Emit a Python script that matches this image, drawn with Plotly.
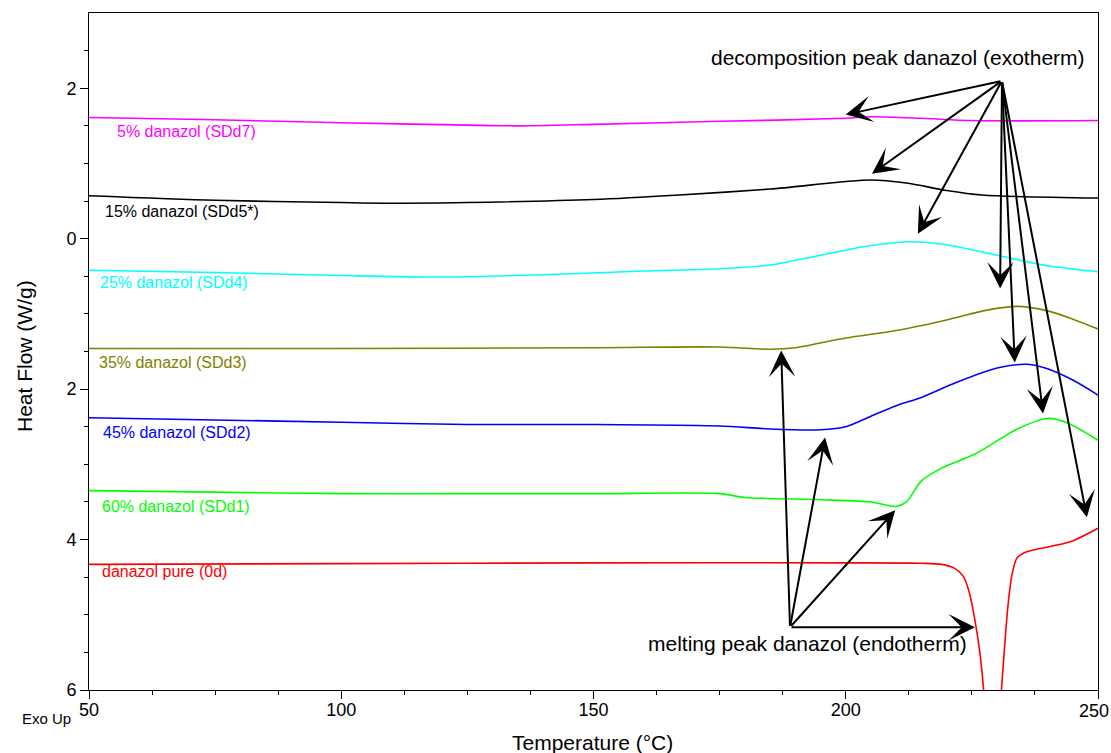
import plotly.graph_objects as go

# ---- data (temperature in °C, heat flow in W/g; exo up) ----
t_sdd7 = [50, 75, 100, 125, 135, 150, 175, 200, 205, 215, 225, 250]
h_sdd7 = [1.61, 1.58, 1.54, 1.51, 1.50, 1.52, 1.56, 1.60, 1.62, 1.60, 1.57, 1.57]

t_sdd5 = [50, 75, 100, 112, 125, 150, 167, 185, 205, 212, 220, 227, 250]
h_sdd5 = [0.57, 0.51, 0.48, 0.47, 0.48, 0.52, 0.58, 0.66, 0.78, 0.74, 0.64, 0.58, 0.54]

t_sdd4 = [50, 75, 100, 120, 140, 160, 175, 185, 195, 205, 213, 220, 230, 240, 250]
h_sdd4 = [-0.42, -0.45, -0.49, -0.51, -0.48, -0.43, -0.40, -0.35, -0.22, -0.09, -0.04, -0.08, -0.22, -0.36, -0.44]

t_sdd3 = [50, 100, 150, 175, 185, 190, 200, 210, 220, 228, 234, 240, 245, 250]
h_sdd3 = [-1.46, -1.46, -1.45, -1.44, -1.47, -1.45, -1.32, -1.22, -1.08, -0.95, -0.90, -0.96, -1.07, -1.20]

t_sdd2 = [50, 75, 100, 125, 150, 175, 185, 195, 200, 205, 210, 215, 222, 230, 236, 240, 245, 250]
h_sdd2 = [-2.38, -2.41, -2.44, -2.47, -2.47, -2.49, -2.53, -2.54, -2.50, -2.36, -2.22, -2.11, -1.91, -1.72, -1.67, -1.73, -1.88, -2.08]

t_sdd1 = [50, 75, 100, 125, 150, 175, 180, 195, 205, 210, 212, 215, 219, 226, 234, 240, 244, 250]
h_sdd1 = [-3.35, -3.37, -3.39, -3.39, -3.39, -3.39, -3.44, -3.47, -3.50, -3.56, -3.50, -3.22, -3.05, -2.85, -2.53, -2.39, -2.45, -2.68]

t_0d = [50, 100, 150, 200, 215, 219, 221.5, 223.2, 224.4, 225.6, 226.6, 227.4, 229, 230.8, 231.4, 232.2, 233, 234, 236, 238.5, 244.5, 250]
h_0d = [-4.33, -4.32, -4.31, -4.31, -4.315, -4.33, -4.38, -4.48, -4.68, -5.07, -5.51, -6.05, -7.5, -6.05, -5.5, -4.85, -4.45, -4.24, -4.16, -4.12, -4.03, -3.85]

series = [
    ("5% danazol (SDd7)", t_sdd7, h_sdd7, "#FF00FF", 55.2, 1.42),
    ("15% danazol (SDd5*)", t_sdd5, h_sdd5, "#000000", 52.8, 0.36),
    ("25% danazol (SDd4)", t_sdd4, h_sdd4, "#00FFFF", 51.8, -0.58),
    ("35% danazol (SDd3)", t_sdd3, h_sdd3, "#808000", 51.6, -1.65),
    ("45% danazol (SDd2)", t_sdd2, h_sdd2, "#0000FF", 52.4, -2.58),
    ("60% danazol (SDd1)", t_sdd1, h_sdd1, "#00FF00", 52.2, -3.56),
    ("danazol pure (0d)", t_0d, h_0d, "#FF0000", 52.2, -4.42),
]

y_tickvals = [2, 0, -2, -4, -6]
y_ticktext = ["2", "0", "2", "4", "6"]
x_tickvals = [50, 100, 150, 200, 250]
x_ticktext = ["50", "100", "150", "200", ""]  # "250" drawn as an annotation at the right edge
x_last_label = "250"

# arrows: (tip x, tip y), common tail
decomp_tail = (230.97, 2.098)
decomp_tips = [(200.0, 1.65), (205.2, 0.863), (214.3, 0.066), (230.6, -0.664),
               (233.5, -1.647), (239.1, -2.324), (247.8, -3.705)]
melt_tail = (188.95, -5.166)
melt_tips = [(187.2, -1.487), (195.9, -2.643), (209.8, -3.612), (225.6, -5.166)]

FONT = "Arial, Liberation Sans, sans-serif"

PL, PT, PR, PB = 89, 13, 1098, 690  # plot area in page pixels
W, H = 1111, 753
PW, PH = PR - PL, PB - PT


def px(xp):
    return (xp - PL) / PW


def py(yp):
    return (PB - yp) / PH


fig = go.Figure()
for name, t, h, col, lx, ly in series:
    fig.add_trace(go.Scatter(x=t, y=h, mode="lines", name=name,
                             line=dict(color=col, width=1.6, shape="spline", smoothing=0.8),
                             showlegend=False, hoverinfo="skip"))

annotations = []
for name, t, h, col, lx, ly in series:
    annotations.append(dict(x=lx, y=ly, xref="x", yref="y", text=name, showarrow=False,
                            xanchor="left", yanchor="middle",
                            font=dict(family=FONT, size=16, color=col)))

for tips, tail in ((decomp_tips, decomp_tail), (melt_tips, melt_tail)):
    for (x, y) in tips:
        annotations.append(dict(x=x, y=y, xref="x", yref="y", ax=tail[0], ay=tail[1],
                                axref="x", ayref="y", text="", showarrow=True,
                                arrowhead=3, arrowsize=2.2, arrowwidth=2, arrowcolor="black",
                                standoff=0, startstandoff=0))

annotations += [
    dict(x=210.3, y=2.404, xref="x", yref="y", text="decomposition peak danazol (exotherm)",
         showarrow=False, font=dict(family=FONT, size=21, color="black")),
    dict(x=192.4, y=-5.378, xref="x", yref="y", text="melting peak danazol (endotherm)",
         showarrow=False, font=dict(family=FONT, size=21, color="black")),
    dict(x=px(1111), y=py(711), xref="paper", yref="paper", text=x_last_label,
         showarrow=False, xanchor="right", yanchor="middle",
         font=dict(family=FONT, size=18, color="black")),
    dict(x=px(73), y=py(718), xref="paper", yref="paper", text="Exo Up",
         showarrow=False, xanchor="right", yanchor="middle",
         font=dict(family=FONT, size=15, color="black")),
    dict(x=px(592), y=py(742), xref="paper", yref="paper",
         text="Temperature (°C)", showarrow=False, yanchor="middle",
         font=dict(family=FONT, size=21, color="black")),
    dict(x=px(24), y=py(356), xref="paper", yref="paper",
         text="Heat Flow (W/g)", showarrow=False, textangle=-90, xanchor="center",
         yanchor="middle", font=dict(family=FONT, size=21, color="black")),
]

fig.update_layout(
    width=W, height=H,
    margin=dict(l=PL, r=W - PR, t=PT, b=H - PB, pad=0),
    paper_bgcolor="white", plot_bgcolor="white",
    annotations=annotations,
    font=dict(family=FONT, color="black"),
    xaxis=dict(range=[50, 250], tickmode="array", tickvals=x_tickvals, ticktext=x_ticktext,
               ticks="outside", ticklen=8, tickwidth=1, tickcolor="black",
               showline=True, linecolor="black", linewidth=1, mirror=True,
               showgrid=False, zeroline=False, ticklabelstandoff=-5,
               tickfont=dict(family=FONT, size=18, color="black"),
               minor=dict(tickvals=[62.5, 75, 87.5, 112.5, 125, 137.5, 162.5, 175, 187.5,
                                    212.5, 225, 237.5],
                          ticks="outside", ticklen=4, tickcolor="black", showgrid=False)),
    yaxis=dict(range=[-6, 3], tickmode="array", tickvals=y_tickvals, ticktext=y_ticktext,
               ticks="outside", ticklen=8, tickwidth=1, tickcolor="black",
               showline=True, linecolor="black", linewidth=1, mirror=True,
               showgrid=False, zeroline=False,
               tickfont=dict(family=FONT, size=18, color="black"),
               minor=dict(tickvals=[2.5, 1.5, 1, 0.5, -0.5, -1, -1.5, -2.5, -3, -3.5,
                                    -4.5, -5, -5.5],
                          ticks="outside", ticklen=4, tickcolor="black", showgrid=False)),
)

fig.write_html(
    "out.html",
    config={"displayModeBar": False},
    post_script="document.body.style.margin='0';document.body.style.overflow='hidden';"
                "document.documentElement.style.overflow='hidden';",
)
